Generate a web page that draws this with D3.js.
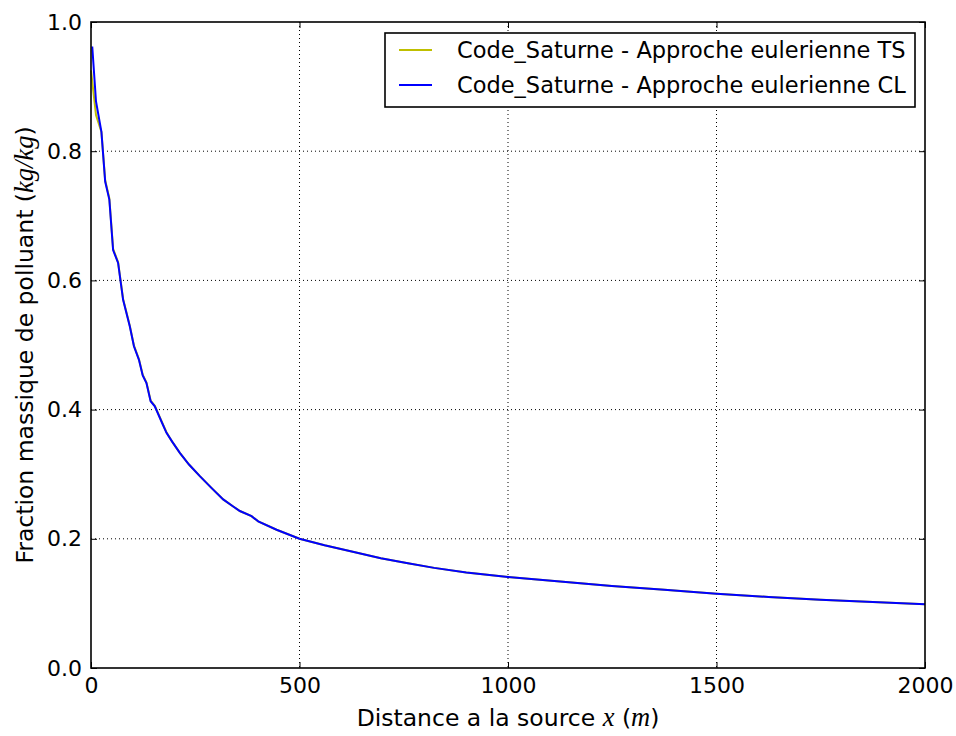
<!DOCTYPE html>
<html><head><meta charset="utf-8">
<script src="https://cdn.jsdelivr.net/npm/d3@7"></script>
<style>
body{margin:0;background:#fff;}
text{font-family:"DejaVu Sans",sans-serif;}
</style></head>
<body><svg id="c" width="956" height="736"></svg>
<script>
// ---- data ----
const clDist = [3,12,25,34,44,53,65,77,93,103,115,124,133,143,153,170,181,195,213,235,261,290,317,341,357,385,401,445,500,560,620,695,760,823,900,1000,1125,1249,1375,1500,1625,1749,1875,2000];
const clVal  = [0.962,0.877,0.830,0.753,0.725,0.647,0.627,0.570,0.529,0.498,0.477,0.453,0.441,0.413,0.405,0.380,0.364,0.350,0.333,0.315,0.297,0.278,0.261,0.250,0.243,0.235,0.227,0.214,0.200,0.190,0.181,0.170,0.162,0.155,0.148,0.141,0.134,0.127,0.121,0.115,0.110,0.1055,0.102,0.0987];
const tsDist = [0,12,25,34,44,53,65,77,93,103,115,124,133,143,153,170,181,195,213,235,261,290,317,341,357,385,401,445,500,560,620,695,760,823,900,1000,1125,1249,1375,1500,1625,1749,1875,2000];
const tsVal  = [0.925,0.856,0.830,0.755,0.727,0.649,0.628,0.571,0.530,0.499,0.478,0.454,0.442,0.414,0.406,0.381,0.365,0.350,0.333,0.315,0.297,0.278,0.261,0.250,0.243,0.235,0.227,0.214,0.200,0.190,0.181,0.170,0.162,0.155,0.148,0.141,0.134,0.127,0.121,0.115,0.110,0.1055,0.102,0.0987];
const xTicks = [0,500,1000,1500,2000];
const yTicks = [0.0,0.2,0.4,0.6,0.8,1.0];
const seriesNames = ["Code_Saturne - Approche eulerienne TS","Code_Saturne - Approche eulerienne CL"];
const seriesColors = ["#bfbf00","#0000ff"];

// ---- layout ----
const L=91, R=925, T=22, B=668;
const svg = d3.select("#c");
const x = d3.scaleLinear().domain([0,2000]).range([L,R]);
const y = d3.scaleLinear().domain([0,1]).range([B,T]);

// grid
const g = svg.append("g");
g.selectAll(".gx").data(xTicks.slice(1,-1)).enter().append("line")
  .attr("x1",d=>x(d)).attr("x2",d=>x(d)).attr("y1",T).attr("y2",B)
  .attr("stroke","#000").attr("stroke-width",1).attr("stroke-dasharray","1,3");
g.selectAll(".gy").data(yTicks.slice(1,-1)).enter().append("line")
  .attr("y1",d=>y(d)).attr("y2",d=>y(d)).attr("x1",L).attr("x2",R)
  .attr("stroke","#000").attr("stroke-width",1).attr("stroke-dasharray","1,3");

// lines
const line = d3.line().x(d=>x(d[0])).y(d=>y(d[1]));
const ts = tsDist.map((d,i)=>[d,tsVal[i]]);
const cl = clDist.map((d,i)=>[d,clVal[i]]);
svg.append("path").datum(ts).attr("d",line).attr("fill","none").attr("stroke",seriesColors[0]).attr("stroke-width",2);
svg.append("path").datum(cl).attr("d",line).attr("fill","none").attr("stroke",seriesColors[1]).attr("stroke-width",2);

// axes (ticks inside)
const fs = 22;
const xb = svg.append("g").attr("transform",`translate(0,${B})`)
  .call(d3.axisBottom(x).tickValues(xTicks).tickSize(-6).tickPadding(9).tickFormat(d3.format("d")));
const xt = svg.append("g").attr("transform",`translate(0,${T})`)
  .call(d3.axisTop(x).tickValues(xTicks).tickSize(-6).tickFormat(""));
const yl = svg.append("g").attr("transform",`translate(${L},0)`)
  .call(d3.axisLeft(y).tickValues(yTicks).tickSize(-6).tickPadding(9).tickFormat(d3.format(".1f")));
const yr = svg.append("g").attr("transform",`translate(${R},0)`)
  .call(d3.axisRight(y).tickValues(yTicks).tickSize(-6).tickFormat(""));
[xb,xt,yl,yr].forEach(a=>{
  a.select(".domain").remove();
  a.selectAll(".tick line").attr("stroke","#000").attr("stroke-width",1);
  a.selectAll("text").attr("font-size",fs).attr("font-family","DejaVu Sans").attr("fill","#000");
});
xb.selectAll("text").attr("dy","0.71em");

// frame
svg.append("rect").attr("x",L).attr("y",T).attr("width",R-L).attr("height",B-T)
  .attr("fill","none").attr("stroke","#000").attr("stroke-width",1.6);

// axis labels
const mathFont = "Liberation Serif";
const lfs = 23.5, mfs = 26.5;
const xl = svg.append("text").attr("x",(L+R)/2).attr("y",726).attr("text-anchor","middle").attr("font-size",lfs);
xl.append("tspan").text("Distance a la source ");
xl.append("tspan").attr("font-family",mathFont).attr("font-style","italic").attr("font-size",mfs).text("x");
xl.append("tspan").text(" (");
xl.append("tspan").attr("font-family",mathFont).attr("font-style","italic").attr("font-size",mfs).text("m");
xl.append("tspan").text(")");

const ylab = svg.append("text").attr("transform",`translate(33,${(T+B)/2}) rotate(-90)`).attr("text-anchor","middle").attr("font-size",lfs);
ylab.append("tspan").text("Fraction massique de polluant (");
ylab.append("tspan").attr("font-family",mathFont).attr("font-style","italic").attr("font-size",mfs).text("kg/kg");
ylab.append("tspan").text(")");

// legend
const lg = svg.append("g");
lg.append("rect").attr("x",385).attr("y",33).attr("width",530).attr("height",74)
  .attr("fill","#fff").attr("stroke","#000").attr("stroke-width",1.6);
seriesNames.forEach((n,i)=>{
  const yy = 50 + i*35;
  lg.append("line").attr("x1",399).attr("x2",432).attr("y1",yy).attr("y2",yy).attr("stroke",seriesColors[i]).attr("stroke-width",2);
  lg.append("text").attr("x",457).attr("y",yy).attr("dy","0.35em").attr("font-size",22.5).text(n);
});
</script></body></html>
